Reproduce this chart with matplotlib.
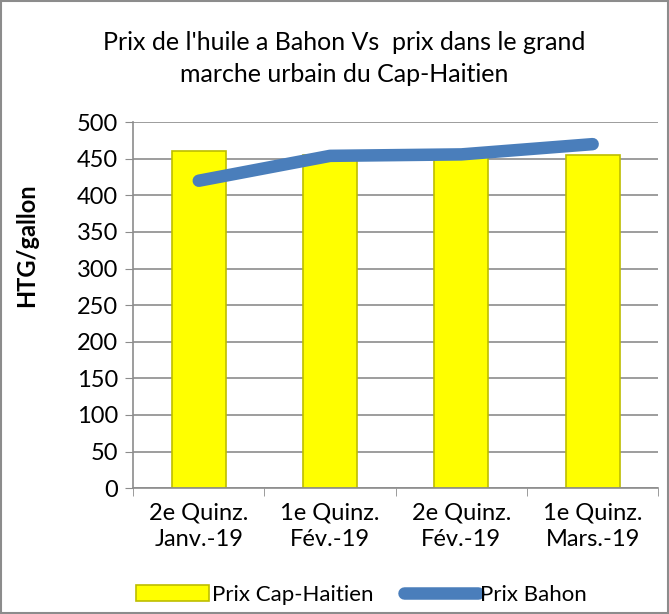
import numpy as np
import matplotlib.pyplot as plt
from matplotlib.patches import Rectangle

categories = ["2e Quinz.\nJanv.-19", "1e Quinz.\nFév.-19", "2e Quinz.\nFév.-19", "1e Quinz.\nMars.-19"]
prix_cap = [460, 455, 455, 455]
prix_bahon = [420, 454, 456, 470]

plt.rcParams['font.family'] = ['Lato', 'DejaVu Sans']

fig = plt.figure(figsize=(6.69, 6.14), dpi=100)
ax = fig.add_axes([0.199, 0.205, 0.785, 0.596])

x = np.arange(len(categories))
bars = ax.bar(x, prix_cap, width=0.41, color='#FFFF00', edgecolor='#BDBD00', linewidth=1.2,
              label='Prix Cap-Haitien', zorder=2)
line, = ax.plot(x, prix_bahon, color='#4A7EBB', linewidth=9, solid_capstyle='round',
                label='Prix Bahon', zorder=3)

ax.set_xlim(-0.5, len(categories) - 0.5)
ax.set_ylim(0, 500)
ax.set_yticks(range(0, 501, 50))
ax.yaxis.grid(True, color='#8C8C8C', linewidth=1.2, zorder=0)
ax.set_axisbelow(True)

ax.set_xticks(x)
ax.set_xticklabels(categories, fontsize=17, linespacing=1.35)
ax.tick_params(axis='x', length=0, pad=10)
ax.set_xticks(np.arange(-0.5, len(categories)), minor=True)
ax.tick_params(axis='x', which='minor', length=6, color='#8C8C8C')
ax.tick_params(axis='y', labelsize=17, length=6, color='#8C8C8C', pad=5)

for s in ['top', 'right']:
    ax.spines[s].set_visible(False)
for s in ['left', 'bottom']:
    ax.spines[s].set_color('#8C8C8C')
    ax.spines[s].set_linewidth(1.2)

ax.set_ylabel('HTG/gallon', fontsize=17, fontweight='bold')
ax.yaxis.set_label_coords(-0.181, 0.665)

fig.text(0.515, 0.905, "Prix de l'huile a Bahon Vs  prix dans le grand\nmarche urbain du Cap-Haitien",
         ha='center', va='center', fontsize=18, linespacing=1.45)

fig.legend([bars, line], ['Prix Cap-Haitien', 'Prix Bahon'], loc='lower center',
           bbox_to_anchor=(0.54, -0.018), ncol=2, frameon=False,
           fontsize=16, handlelength=3.3, handletextpad=0.1, columnspacing=1.4)

fig.add_artist(Rectangle((0.001, 0.001), 0.997, 0.997, transform=fig.transFigure,
                         fill=False, edgecolor='#8C8C8C', linewidth=1.5))

fig.savefig('out.png', dpi=100)
